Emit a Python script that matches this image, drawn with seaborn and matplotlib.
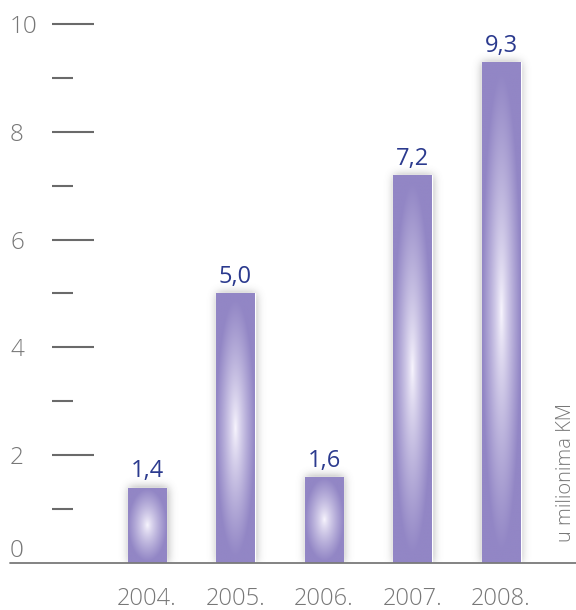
import numpy as np
import pandas as pd
import matplotlib
matplotlib.use("Agg")
import matplotlib.pyplot as plt
import seaborn as sns
from matplotlib.colors import to_rgb

# Data
years = ["2004.", "2005.", "2006.", "2007.", "2008."]
values = [1.4, 5.0, 1.6, 7.2, 9.3]
value_labels = ["1,4", "5,0", "1,6", "7,2", "9,3"]
y_major = [0, 2, 4, 6, 8, 10]
y_major_labels = ["0", "2", "4", "6", "8", "10"]
y_minor = [1, 3, 5, 7, 9]
unit_label = "u milionima KM"

sns.set_theme(style="white")
plt.rcParams["font.family"] = ["Open Sans", "DejaVu Sans"]
plt.rcParams["font.weight"] = "light"

W, H = 576, 610
BASE_PX = 563
fig = plt.figure(figsize=(W / 100, H / 100), dpi=100)
ax = fig.add_axes([0, (H - BASE_PX) / H, 1, BASE_PX / H])

df = pd.DataFrame({"year": years, "value": values})
sns.barplot(data=df, x="year", y="value", order=years, width=0.44,
            color="#9489c5", ax=ax, zorder=3, saturation=1)

XLIM = (-1.661, 4.847)
YLIM = (0, 10.445)
ax.set_xlim(*XLIM)
ax.set_ylim(*YLIM)

bars = list(ax.patches)

# radial gradient fill inside every bar
edge = np.array(to_rgb("#9286c5"))
center = np.array([0.98, 0.97, 1.0])
for p in bars:
    x0, y0, w, h = p.get_x(), p.get_y(), p.get_width(), p.get_height()
    gx = np.linspace(-1, 1, 80)
    gy = np.linspace(-1, 1, 300)
    dx, dy = np.meshgrid(gx, gy)
    r = np.sqrt(dx ** 2 + (dy * 1.05) ** 2)
    t = np.clip(r, 0, 1) ** 0.8
    img = center[None, None, :] * (1 - t[..., None]) + edge[None, None, :] * t[..., None]
    im = ax.imshow(img, extent=[x0, x0 + w, y0, y0 + h], origin="lower",
                   aspect="auto", interpolation="bilinear", zorder=4)
    im.set_clip_path(p)

# soft drop shadow behind the bars
ny, nx = BASE_PX, W
xs = np.linspace(*XLIM, nx)
ys = np.linspace(*YLIM, ny)
mask = np.zeros((ny, nx))
for p in bars:
    x0, y0, w, h = p.get_x(), p.get_y(), p.get_width(), p.get_height()
    mask[np.ix_((ys >= y0) & (ys <= y0 + h), (xs >= x0) & (xs <= x0 + w))] = 1.0
k = np.exp(-0.5 * (np.arange(-16, 17) / 4.5) ** 2)
k /= k.sum()
blur = np.apply_along_axis(lambda row: np.convolve(row, k, mode="same"), 1, mask)
blur = np.apply_along_axis(lambda col: np.convolve(col, k, mode="same"), 0, blur)
blur = np.roll(blur, 1, axis=1)
shadow = np.zeros((ny, nx, 4))
shadow[..., :3] = 0.35
shadow[..., 3] = blur * 0.5
ax.imshow(shadow, extent=[*XLIM, *YLIM], origin="lower", aspect="auto", zorder=2)

ax.set_xlim(*XLIM)
ax.set_ylim(*YLIM)

# value labels above bars
for p, lab in zip(bars, value_labels):
    ax.annotate(lab, (p.get_x() + p.get_width() / 2, p.get_height()),
                xytext=(0, 3), textcoords="offset points", ha="center", va="bottom",
                fontsize=17, fontweight="normal", color="#2b3a8e", zorder=6)

# baseline
ax.axhline(0, xmin=10 / W, xmax=1, color="#7a7a7a", lw=1.3, zorder=5, clip_on=False)

# y axis: tick dashes offset from the labels
for s in ax.spines.values():
    s.set_visible(False)
spine_x = XLIM[0] + 52 / W * (XLIM[1] - XLIM[0])
ax.spines["left"].set_position(("data", spine_x))
ax.spines["left"].set_visible(True)
ax.spines["left"].set_color("none")
ax.set_yticks(y_major)
ax.set_yticklabels(y_major_labels)
ax.set_yticks(y_minor, minor=True)
ax.tick_params(axis="y", which="major", direction="in", length=42 / 1.389,
               width=1.5, color="#6a6a6a", pad=42 / 1.389, labelsize=17.5,
               labelcolor="#777777", left=True)
ax.tick_params(axis="y", which="minor", direction="in", length=21 / 1.389,
               width=1.5, color="#6a6a6a", left=True)
for lab in ax.get_yticklabels():
    lab.set_horizontalalignment("left")
ticks = ax.yaxis.get_major_ticks()
ticks[0].tick1line.set_visible(False)
ticks[0].label1.set_verticalalignment("bottom")

# x axis labels
ax.set_xlabel("")
ax.set_ylabel("")
ax.tick_params(axis="x", length=0, pad=24 / 1.389, labelsize=17, labelcolor="#777777")
ax.grid(False)

ax.text(566 / W, (BASE_PX - 472) / BASE_PX, unit_label, transform=ax.transAxes,
        rotation=90, ha="center", va="center", fontsize=14.5, color="#777777")

fig.savefig("out.png", dpi=100)
